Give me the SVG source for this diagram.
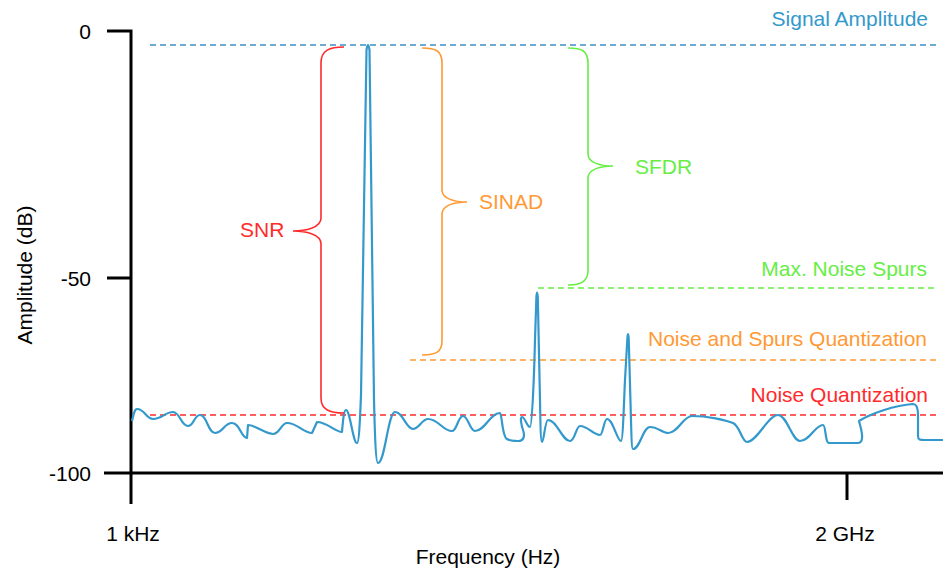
<svg xmlns="http://www.w3.org/2000/svg" width="943" height="571" viewBox="0 0 943 571">
<style>
text{font-family:"Liberation Sans",Arial,sans-serif;font-size:21px}
.ax{stroke:#000;stroke-width:3;fill:none}
.dash{fill:none;stroke-width:1.3;stroke-dasharray:6 4}
.brace{fill:none;stroke-width:1.6}
.blue{fill:#3399cc}.red{fill:#ff2a2a}.org{fill:#ff9933}.grn{fill:#66ee44}
</style>
<rect width="943" height="571" fill="#fff"/>
<g id="axes">
<path class="ax" d="M107,31 H131 V504 M107,278 H131 M104,473 H943 M847,473 V500"/>
<text x="91" y="39" text-anchor="end">0</text>
<text x="91" y="286" text-anchor="end">-50</text>
<text x="91" y="481" text-anchor="end">-100</text>
<text x="133" y="541" text-anchor="middle">1 kHz</text>
<text x="845" y="541" text-anchor="middle">2 GHz</text>
<text x="488" y="564" text-anchor="middle">Frequency (Hz)</text>
<text transform="translate(32,275) rotate(-90)" text-anchor="middle">Amplitude (dB)</text>
</g>
<g id="levels">
<path class="dash" stroke="#3d8fc6" d="M150,45 H937"/>
<path class="dash" stroke="#66ee44" d="M538,288 H937"/>
<path class="dash" stroke="#ff9933" d="M410,360 H937"/>
<path class="dash" stroke="#ff2a2a" d="M150,415 H937"/>
<text class="blue" x="928" y="26" text-anchor="end">Signal Amplitude</text>
<text class="grn" x="927" y="276" text-anchor="end">Max. Noise Spurs</text>
<text class="org" x="927" y="346" text-anchor="end">Noise and Spurs Quantization</text>
<text class="red" x="928" y="402" text-anchor="end">Noise Quantization</text>
</g>
<g id="trace">
<path fill="none" stroke="#3399cc" stroke-width="2.2" stroke-linejoin="round" d="M132,421 C134,412 135,409 137,409 C145,409 146,419 153,419 C162,419 165,412 173,412 C180,412 181,426 188,426 C194,426 194,415 200,415 C207,415 208,433 215,433 C223,433 224,423 232,423 C240,423 241,438 247,438 L248,425 C255,425 266,434 273,434 C280,434 281,423 287,423 C298,423 303,433 312,433 L317,422 C327,422 335,432 342,432 C343,420 344,410 346,410 C350,410 353,443 357,443 C359,443 360,420 361,395 L366.5,50 Q368,40 369.5,50 L374,400 C375,440 376,463 378,463 C385,463 388,412 395,412 C403,412 406,429 413,429 C419,429 422,419 428,419 C438,419 443,431 452,431 C457,431 458,416 463,416 C468,416 470,431 475,431 C485,431 490,413 500,413 C502,413 502,437 507,439 C510,441 515,441 518,441 C524,441 525,436 523,430 C521,424 520,417 522,417 C525,417 527,427 530,427 C532,427 534,380 535,340 L536.4,297 Q537,288 537.8,297 L540,400 C540.5,430 541,442 542,442 C544,442 545,420 548,420 C557,420 562,441 570,441 C575,441 576,426 580,426 C588,426 593,435 600,435 C603,435 604,419 607,419 C613,419 617,441 621,441 C623,441 624,400 625,380 L627.4,338 Q628,330 628.7,338 L631,420 C631.5,440 632,449 633,449 C640,449 643,427 650,427 C658,427 662,433 668,433 C678,433 683,416 692,416 C708,416 725,420 733,423 C740,426 742,442 747,442 C757,442 768,415 778,415 C787,415 792,441 800,441 C810,441 815,425 823,425 C826,425 825,443 829,443 L858,443 C866,443 860,425 859,421 C870,414 895,405 913,404 C916,404 918,406 918,415 L918,436 C918,440 920,440 925,440 L943,440"/>
</g>
<g id="snr">
<path class="brace" stroke="#ff2a2a" d="M344,47 C330,47 321,50 321,63 L321,218 C321,228 305,231 293,231 C305,231 321,234 321,244 L321,398 C321,410 330,413 344,413"/>
<text class="red" x="240" y="237">SNR</text>
</g>
<g id="sinad">
<path class="brace" stroke="#ff9933" d="M422,48 C436,48 442,51 442,63 L442,190 C442,199 455,202 467,202 C455,202 442,205 442,214 L442,341 C442,352 436,355 422,355"/>
<text class="org" x="479" y="209">SINAD</text>
</g>
<g id="sfdr">
<path class="brace" stroke="#66ee44" d="M568,48 C582,48 588,51 588,63 L588,154 C588,163 601,166 613,166 C601,166 588,169 588,178 L588,270 C588,281 582,285 568,285"/>
<text class="grn" x="635" y="174">SFDR</text>
</g>
</svg>
